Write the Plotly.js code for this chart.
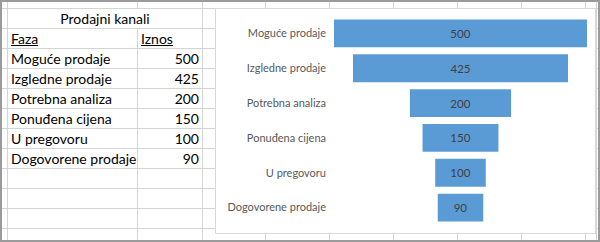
<!DOCTYPE html>
<html>
<head>
<meta charset="utf-8">
<script src="https://cdn.plot.ly/plotly-3.0.1.min.js"></script>
<style>
  body { margin:0; background:#fff; }
  #sheet { position:relative; width:600px; height:242px; overflow:hidden; background:#fff; font-family:Lato, "Open Sans", sans-serif; }
  .hl { position:absolute; height:1px; background:#d4d4d4; }
  .vl { position:absolute; width:1px; background:#d4d4d4; }
  .cell { position:absolute; font-size:14px; color:#000; line-height:20px; white-space:nowrap; }
  #chartbox { position:absolute; left:215px; top:8px; width:379px; height:224px; border:1px solid #d9d9d9; background:#fff; }
  #chart { width:379px; height:224px; }
</style>
</head>
<body>
<div id="sheet">
  <div id="chartbox"><div id="chart"></div></div>
</div>
<script>
// ---- data ----
const tableTitle = "Prodajni kanali";
const headerCols = ["Faza", "Iznos"];
const stages = ["Moguće prodaje", "Izgledne prodaje", "Potrebna analiza", "Ponuđena cijena", "U pregovoru", "Dogovorene prodaje"];
const amounts = [500, 425, 200, 150, 100, 90];

// ---- spreadsheet background ----
const sheet = document.getElementById('sheet');
const chartbox = document.getElementById('chartbox');
function add(cls, style, text) {
  const d = document.createElement('div');
  d.className = cls;
  Object.assign(d.style, style);
  if (text !== undefined) d.textContent = text;
  sheet.insertBefore(d, chartbox);
  return d;
}
const rowLines = [];
for (let y = 8; y <= 228; y += 20) rowLines.push(y);
rowLines.forEach(y => add('hl', {left:'2px', top:y+'px', width:'596px'}));
const colLines = [7, 202, 265, 329, 393, 457, 521, 585, 596];
colLines.forEach(x => add('vl', {left:x+'px', top:'2px', height:'238px'}));
// column B border, interrupted by merged title cell
add('vl', {left:'137px', top:'2px', height:'6px'});
add('vl', {left:'137px', top:'28px', height:'212px'});
// window border
add('', {position:'absolute', left:'0px', top:'0px', width:'600px', height:'2px', background:'#9b9b9b'});
add('', {position:'absolute', left:'0px', top:'240px', width:'600px', height:'2px', background:'#9b9b9b'});
add('', {position:'absolute', left:'0px', top:'0px', width:'2px', height:'242px', background:'#9b9b9b'});
add('', {position:'absolute', left:'598px', top:'0px', width:'2px', height:'242px', background:'#9b9b9b'});

// table text
add('cell', {left:'8px', width:'194px', top:'9px', textAlign:'center'}, tableTitle);
add('cell', {left:'11px', top:'29px', textDecoration:'underline'}, headerCols[0]);
add('cell', {left:'141px', top:'29px', textDecoration:'underline'}, headerCols[1]);
stages.forEach((s, i) => {
  const top = 49 + 20 * i;
  add('cell', {left:'11px', top: top + 'px'}, s);
  add('cell', {left:'138px', width:'61px', top: top + 'px', textAlign:'right'}, String(amounts[i]));
});

// ---- funnel chart ----
const trace = {
  type: 'funnel',
  y: stages,
  x: amounts,
  orientation: 'h',
  marker: { color: '#5b9bd5', line: { width: 0 } },
  connector: { visible: false },
  textinfo: 'value',
  textposition: 'inside',
  insidetextanchor: 'middle',
  textfont: { family: 'Lato, sans-serif', size: 11.5, color: '#404040' },
  constraintext: 'none',
  hoverinfo: 'none'
};
const layout = {
  width: 379, height: 224,
  margin: { l: 118, r: 8, t: 7, b: 8 },
  paper_bgcolor: '#fff', plot_bgcolor: '#fff',
  showlegend: false,
  bargap: 0.05,
  font: { family: 'Lato, sans-serif', size: 11, color: '#595959' },
  xaxis: { range: [-250, 250], visible: false, fixedrange: true },
  yaxis: { type: 'category', autorange: 'reversed', showgrid: false, zeroline: false, showline: false,
           ticks: '', ticklabelstandoff: 7, tickfont: { size: 11, color: '#595959' }, automargin: false }
};
Plotly.newPlot('chart', [trace], layout, { staticPlot: true, displayModeBar: false });
</script>
</body>
</html>
